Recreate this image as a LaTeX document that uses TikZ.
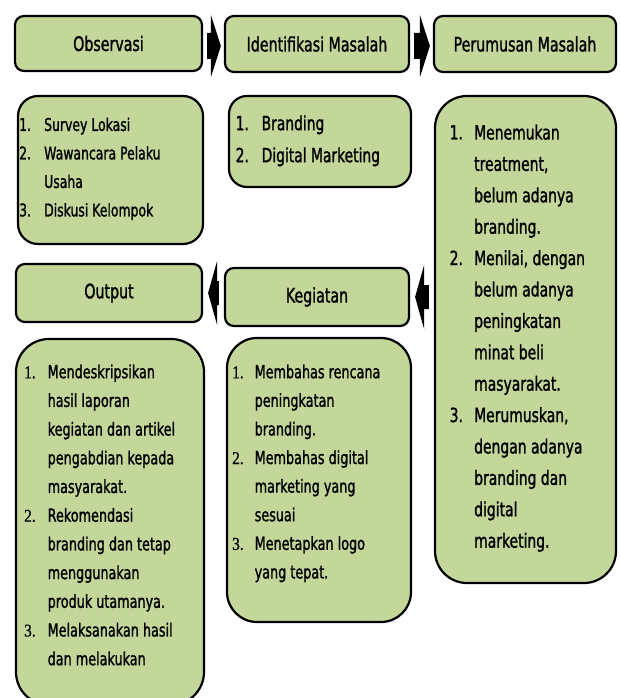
\documentclass[tikz,border=0pt]{standalone}
\usepackage{fontspec}
\setmainfont{DejaVu Sans}[FakeStretch=0.71,FakeBold=1.2]
\newfontfamily\numserif{Liberation Serif}[FakeStretch=0.85,FakeBold=0.8]
\usetikzlibrary{calc}
\definecolor{boxgreen}{HTML}{C4D79B}
\newcommand\fsz[2]{\fontsize{#1}{#2}\selectfont}
% solid block arrow pointing right, between two nodes
\newcommand\flowright[2]{%
  \fill[black] let \p1=(#1.east), \p2=(#2.west) in
    (\x1+4pt,\y2+11pt) -- (\x2-13pt,\y2+11pt) -- (\x2-13pt,\y2+29pt)
    -- (\x2-3pt,\y2-2pt) -- (\x2-13pt,\y2-33pt) -- (\x2-13pt,\y2-15pt)
    -- (\x1+4pt,\y2-15pt) -- cycle;}
% solid block arrow pointing left, between two nodes
\newcommand\flowleft[2]{%
  \fill[black] let \p1=(#1.west), \p2=(#2.east) in
    (\x1-5pt,\y2+12pt) -- (\x2+14pt,\y2+12pt) -- (\x2+14pt,\y2+32pt)
    -- (\x2+5pt,\y2) -- (\x2+14pt,\y2-32pt) -- (\x2+14pt,\y2-12pt)
    -- (\x1-5pt,\y2-12pt) -- cycle;}
\begin{document}
\begin{tikzpicture}[x=1pt,y=-1pt,
  hdr/.style={draw=black, line width=2.2pt, fill=boxgreen, rounded corners=9pt,
    inner sep=0pt, font=\fsz{20}{24}},
  listbox/.style={draw=black, line width=2.2pt, fill=boxgreen, inner sep=0pt},
  listtext/.style={anchor=north west, inner sep=0pt}]
\useasboundingbox (0,0) rectangle (620,698);
\clip (0,0) rectangle (620,698);

% step headers
\node[hdr, minimum width=187pt, minimum height=55pt] (obs) at (108.5,43.5) {Observasi};
\node[hdr, minimum width=184pt, minimum height=56pt] (idf) at (317,44) {Identifikasi Masalah};
\node[hdr, minimum width=182pt, minimum height=56pt] (per) at (525,44) {Perumusan Masalah};
\node[hdr, minimum width=186pt, minimum height=58pt] (out) at (109,293) {Output};
\node[hdr, minimum width=184pt, minimum height=58pt] (keg) at (317,297) {Kegiatan};

% detail boxes
\node[listbox, rounded corners=20pt, minimum width=185pt, minimum height=148pt] (obsl) at (110.5,170) {};
\node[listbox, rounded corners=18pt, minimum width=182pt, minimum height=91pt] (idfl) at (320,141.5) {};
\node[listbox, rounded corners=32pt, minimum width=181pt, minimum height=487pt] (perl) at (525.5,339.5) {};
\node[listbox, rounded corners=33pt, minimum width=188pt, minimum height=366pt] (outl) at (110,522) {};
\node[listbox, rounded corners=30pt, minimum width=184pt, minimum height=284pt] (kegl) at (319,480) {};

% list contents
\node[listtext] (obst) at (19,110.75) {\fsz{17.5}{28.5}%
  \begin{tabular}{@{}p{25pt}@{}l@{}}
  1. & Survey Lokasi\\
  2. & Wawancara Pelaku\\
     & Usaha\\
  3. & Diskusi Kelompok
  \end{tabular}};
\node[listtext] (idft) at (235.5,107.6) {\fsz{19.5}{32}%
  \begin{tabular}{@{}p{26pt}@{}l@{}}
  1. & Branding\\
  2. & Digital Marketing
  \end{tabular}};
\node[listtext] (pert) at (449.5,117.3) {\fsz{19.6}{31.4}%
  \begin{tabular}{@{}p{24.5pt}@{}l@{}}
  1. & Menemukan\\
     & treatment,\\
     & belum adanya\\
     & branding.\\
  2. & Menilai, dengan\\
     & belum adanya\\
     & peningkatan\\
     & minat beli\\
     & masyarakat.\\
  3. & Merumuskan,\\
     & dengan adanya\\
     & branding dan\\
     & digital\\
     & marketing.
  \end{tabular}};
\node[listtext] (outt) at (24,357.9) {\fsz{18}{28.7}%
  \begin{tabular}{@{}p{23.5pt}@{}l@{}}
  {\numserif 1.} & Mendeskripsikan\\
     & hasil laporan\\
     & kegiatan dan artikel\\
     & pengabdian kepada\\
     & masyarakat.\\
  {\numserif 2.} & Rekomendasi\\
     & branding dan tetap\\
     & menggunakan\\
     & produk utamanya.\\
  {\numserif 3.} & Melaksanakan hasil\\
     & dan melakukan
  \end{tabular}};
\node[listtext] (kegt) at (232,358) {\fsz{18}{28.6}%
  \begin{tabular}{@{}p{22.5pt}@{}l@{}}
  {\numserif 1.} & Membahas rencana\\
     & peningkatan\\
     & branding.\\
  {\numserif 2.} & Membahas digital\\
     & marketing yang\\
     & sesuai\\
  {\numserif 3.} & Menetapkan logo\\
     & yang tepat.
  \end{tabular}};

% flow arrows
\flowright{obs}{idf}
\flowright{idf}{per}
\flowleft{perl}{keg}
\flowleft{keg}{out}
\end{tikzpicture}
\end{document}
